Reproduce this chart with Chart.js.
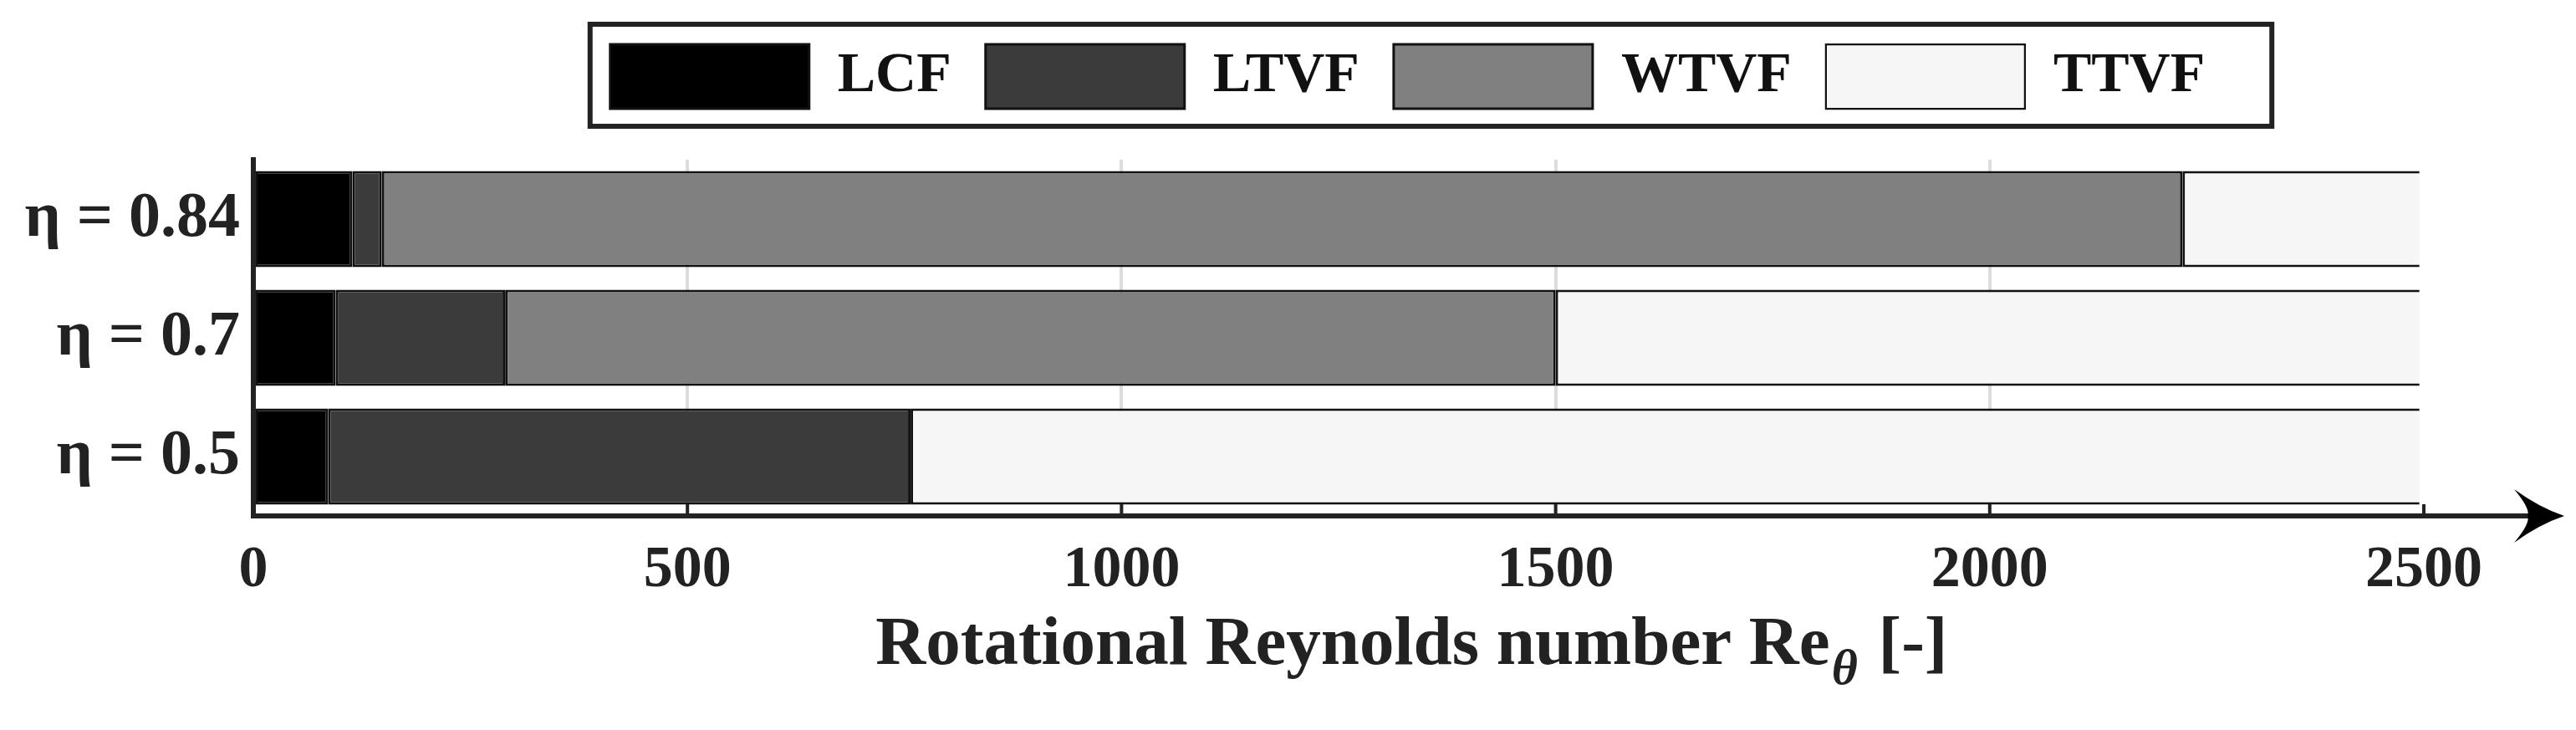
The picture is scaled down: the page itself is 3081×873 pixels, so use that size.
<!DOCTYPE html>
<html>
<head>
<meta charset="utf-8">
<script src="https://cdn.jsdelivr.net/npm/chart.js@4.4.1/dist/chart.umd.min.js"></script>
<style>
html,body{margin:0;padding:0;background:#ffffff;}
#wrap{width:3081px;height:873px;position:relative;}
</style>
</head>
<body>
<div id="wrap"><canvas id="c"></canvas></div>
<script>
// ---- data ----
const categories = ['η = 0.84', 'η = 0.7', 'η = 0.5'];
const seriesNames = ['LCF', 'LTVF', 'WTVF', 'TTVF'];
const lcfValues  = [114, 95, 86];
const ltvfValues = [34, 195, 671];
const wtvfValues = [2074, 1210, 0];
const ttvfValues = [273, 995, 1738];
const xTickValues = [0, 500, 1000, 1500, 2000, 2500];
const axisTitleMain = 'Rotational Reynolds number Re';
const axisTitleSub = 'θ';
const axisTitleTail = ' [-]';

// ---- styling ----
const FONT = "'Liberation Serif', 'Times New Roman', serif";
const fills = ['#000000', '#3b3b3b', '#808080', '#f6f6f6'];
const seriesValues = [lcfValues, ltvfValues, wtvfValues, ttvfValues];

const datasets = seriesNames.map((name, i) => ({
  label: name,
  data: seriesValues[i],
  backgroundColor: fills[i],
  borderColor: '#111111',
  borderWidth: i === 3 ? {top: 3, bottom: 3, left: 3, right: 0} : {top: 3, bottom: 3, left: 3, right: 3},
  borderSkipped: false,
  barPercentage: 0.9,
  categoryPercentage: 0.9
}));

const decor = {
  id: 'decor',
  beforeDraw(chart) {
    const ctx = chart.ctx;
    ctx.save();
    ctx.fillStyle = '#ffffff';
    ctx.fillRect(0, 0, chart.width, chart.height);
    ctx.restore();
  },
  afterLayout(chart) {
    const lg = chart.legend;
    lg.left += 234; lg.right += 234;
    lg.top -= 51; lg.bottom -= 51;
  },
  afterDatasetsDraw(chart) {
    const ctx = chart.ctx, xs = chart.scales.x, ca = chart.chartArea;
    ctx.save();
    ctx.strokeStyle = '#222222';
    ctx.lineWidth = 4;
    xs.ticks.forEach(t => {
      if (t.value === 0) return;
      const px = xs.getPixelForValue(t.value);
      ctx.beginPath();
      ctx.moveTo(px, ca.bottom - 14);
      ctx.lineTo(px, ca.bottom);
      ctx.stroke();
    });
    ctx.restore();
  },
  afterDraw(chart) {
    const ctx = chart.ctx, ca = chart.chartArea;
    ctx.save();
    // legend frame
    const lg = chart.legend;
    const P = lg.options.labels.padding;
    const bh = lg.options.labels.boxHeight;
    const lw = lg.lineWidths[0];
    const x0 = ((lg.left + P) + lg.right - lw) / 2;
    const x1 = x0 + lw - P;
    const y0 = lg.top + P, y1 = y0 + bh;
    ctx.strokeStyle = '#222222';
    ctx.lineWidth = 6;
    ctx.strokeRect(x0 - 24, y0 - 24, (x1 + 80) - (x0 - 24), (y1 + 21) - (y0 - 24));

    // x-axis extension with arrow
    const y = ca.bottom;
    const tip = chart.width - 14;
    ctx.beginPath();
    ctx.moveTo(ca.right - 2, y);
    ctx.lineTo(tip - 20, y);
    ctx.lineWidth = 6;
    ctx.stroke();
    ctx.fillStyle = '#000000';
    ctx.beginPath();
    ctx.moveTo(tip, y);
    ctx.quadraticCurveTo(tip - 30, y - 10, tip - 60, y - 32);
    ctx.quadraticCurveTo(tip - 40, y - 8, tip - 44, y);
    ctx.quadraticCurveTo(tip - 40, y + 8, tip - 60, y + 32);
    ctx.quadraticCurveTo(tip - 30, y + 10, tip, y);
    ctx.closePath();
    ctx.fill();

    // axis title with subscript
    const mainFont = 'bold 83px ' + FONT;
    const subFont = 'italic bold 60px ' + FONT;
    ctx.font = mainFont;
    const wMain = ctx.measureText(axisTitleMain).width;
    const wTail = ctx.measureText(axisTitleTail).width;
    ctx.font = subFont;
    const wSub = ctx.measureText(axisTitleSub).width;
    const total = wMain + wSub + 6 + wTail;
    const cx = chart.width * 0.548;
    let tx = cx - total / 2;
    const base = 794;
    ctx.fillStyle = '#222222';
    ctx.textBaseline = 'alphabetic';
    ctx.textAlign = 'left';
    ctx.font = mainFont;
    ctx.fillText(axisTitleMain, tx, base);
    tx += wMain + 2;
    ctx.font = subFont;
    ctx.fillText(axisTitleSub, tx, base + 24);
    tx += wSub + 4;
    ctx.font = mainFont;
    ctx.fillText(axisTitleTail, tx, base);
    ctx.restore();
  }
};

new Chart(document.getElementById('c'), {
  type: 'bar',
  data: { labels: categories, datasets },
  options: {
    indexAxis: 'y',
    responsive: true,
    maintainAspectRatio: false,
    animation: false,
    devicePixelRatio: 1,
    layout: { padding: { top: 63, left: 0, right: 182, bottom: 0 } },
    plugins: {
      legend: {
        position: 'top',
        labels: {
          font: { family: FONT, size: 68, weight: 'bold' },
          color: '#111111',
          boxWidth: 238,
          boxHeight: 77,
          padding: 41
        }
      },
      tooltip: { enabled: false },
      title: { display: false }
    },
    scales: {
      x: {
        stacked: true,
        min: xTickValues[0],
        max: xTickValues[xTickValues.length - 1],
        afterBuildTicks: s => { s.ticks = xTickValues.map(v => ({ value: v })); },
        ticks: {
          font: { family: FONT, size: 70, weight: 'bold' },
          color: '#222222',
          padding: 24,
          maxRotation: 0,
          autoSkip: false,
          callback: v => String(v)
        },
        grid: {
          color: c => (c.tick && (c.tick.value === 0 || c.tick.value === 2500)) ? 'rgba(0,0,0,0)' : '#dcdcdc',
          lineWidth: 4,
          drawTicks: false
        },
        border: { display: true, color: '#222222', width: 6, z: 1 },
        afterFit: s => { s.height = 256; }
      },
      y: {
        stacked: true,
        ticks: {
          font: { family: FONT, size: 76, weight: 'bold' },
          color: '#222222',
          padding: 16
        },
        grid: { display: false, drawTicks: false },
        border: { display: true, color: '#222222', width: 6, z: 1 },
        afterFit: s => { s.width = 303; }
      }
    }
  },
  plugins: [decor]
});
</script>
</body>
</html>
